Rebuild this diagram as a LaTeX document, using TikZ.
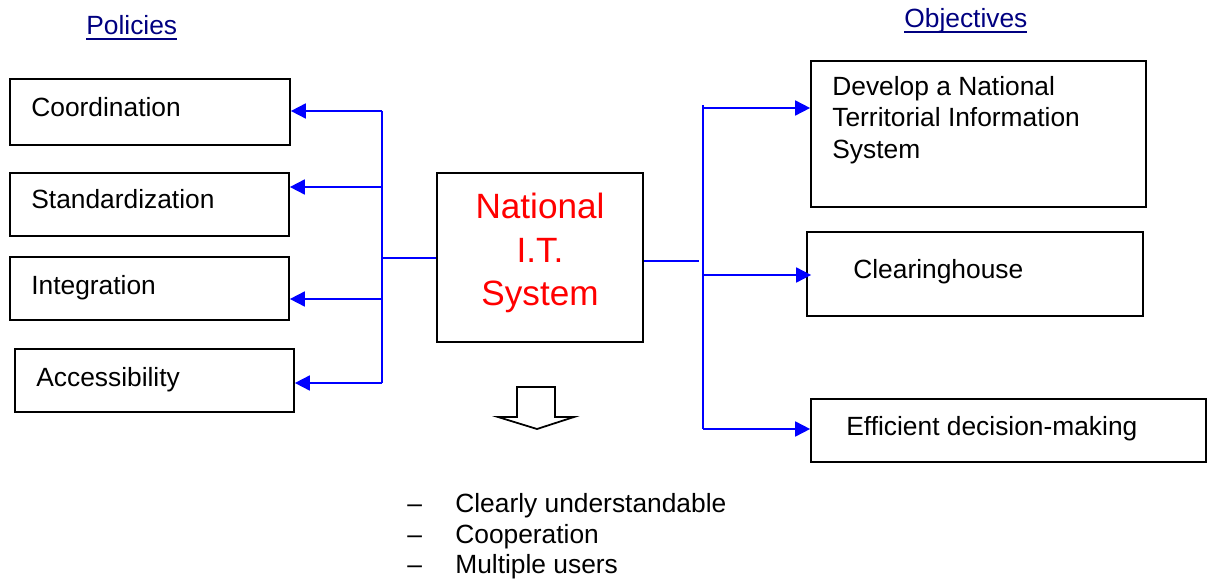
\documentclass[tikz,border=0pt]{standalone}
\usepackage{fontspec}
\setmainfont{Liberation Sans}
\usepackage{tikz}
\usetikzlibrary{arrows.meta}
\definecolor{linkblue}{RGB}{0,0,255}
\definecolor{hdrblue}{RGB}{0,0,128}
\newcommand{\hdrline}[1]{\setbox0\hbox{#1}\rlap{\rule[-2.6pt]{\wd0}{0.8pt}}\box0}

\begin{document}
\begin{tikzpicture}[x=0.02cm, y=-0.02cm, >={Triangle[length=8.5pt,width=8.5pt]},
	box/.style={draw, line width=1pt, inner sep=0pt},
	lbl/.style={inner sep=0pt, anchor=base west, align=left, font=\fontsize{15}{17.9}\selectfont},
	ttl/.style={inner sep=0pt, anchor=base, text=red, font=\fontsize{20}{24.7}\selectfont},
	hdr/.style={inner sep=0pt, anchor=base west, text=hdrblue, font=\fontsize{15}{18}\selectfont},
	link/.style={draw=linkblue, line width=1pt}]
	\useasboundingbox (0,0) rectangle (1211,581);
	%Headers
	\node [hdr] (pol) at (86,35) {\hdrline{Policies}};
	\node [hdr] (obj) at (904,28) {\hdrline{Objectives}};
	%Policies
	\node [box, minimum width=5.6cm, minimum height=1.32cm] (coord) at (150,112) {};
	\node [box, minimum width=5.58cm, minimum height=1.26cm] (stand) at (149.5,204.5) {};
	\node [box, minimum width=5.58cm, minimum height=1.26cm] (integ) at (149.5,288.5) {};
	\node [box, minimum width=5.58cm, minimum height=1.26cm] (access) at (154.5,380.5) {};
	\node [lbl] (coordtxt) at (31,117) {Coordination};
	\node [lbl] (standtxt) at (31,209) {Standardization};
	\node [lbl] (integtxt) at (31,294) {Integration};
	\node [lbl] (accesstxt) at (36,386) {Accessibility};
	%System
	\node [box, minimum width=4.12cm, minimum height=3.38cm] (nits) at (540,257.5) {};
	\node [ttl] (nits1) at (540,218) {National};
	\node [ttl] (nits2) at (540,262) {I.T.};
	\node [ttl] (nits3) at (540,305) {System};
	%Objectives
	\node [box, minimum width=6.7cm, minimum height=2.92cm] (develop) at (978.5,134) {};
	\node [box, minimum width=6.72cm, minimum height=1.68cm] (clear) at (975,274) {};
	\node [box, minimum width=7.9cm, minimum height=1.26cm] (effic) at (1008.5,430.5) {};
	\node [lbl] (developtxt) at (832,158) {Develop a National\\Territorial Information\\System};
	\node [lbl] (cleartxt) at (853,278) {Clearinghouse};
	\node [lbl] (effictxt) at (846,435) {Efficient decision-making};
	%Left links
	\coordinate (l1) at (382,111);
	\coordinate (l2) at (382,187);
	\coordinate (l3) at (382,299);
	\coordinate (l4) at (382,383);
	\coordinate (ljoin) at (382,258);
	\draw [link] (l1) -- (l4);
	\draw [link] (nits.west |- ljoin) -- (ljoin);
	\draw [link,->] (l1) -- (coord.east |- l1);
	\draw [link,->] (l2) -- (stand.east |- l2);
	\draw [link,->] (l3) -- (integ.east |- l3);
	\draw [link,->] (l4) -- (access.east |- l4);
	%Right links
	\coordinate (rtop) at (703,105);
	\coordinate (r1) at (703,108);
	\coordinate (r2) at (703,275);
	\coordinate (r3) at (703,429);
	\coordinate (rjoin) at (699,261);
	\draw [link] (rtop) -- (r3);
	\draw [link] (nits.east |- rjoin) -- (rjoin);
	\draw [link,->] (r1) -- (develop.west |- r1);
	\draw [link,->,shorten >=-0.1cm] (r2) -- (clear.west |- r2);
	\draw [link,->] (r3) -- (effic.west |- r3);
	%Down arrow
	\draw [line width=1pt, line join=miter] (517,387) -- (555,387) -- (555,417) -- (574,417)
		-- (537,429) -- (498,417) -- (517,417) -- cycle;
	%Features
	\node [lbl] (feat1) at (407,512) {\makebox[0.96cm][l]{--}Clearly understandable};
	\node [lbl] (feat2) at (407,543) {\makebox[0.96cm][l]{--}Cooperation};
	\node [lbl] (feat3) at (407,573) {\makebox[0.96cm][l]{--}Multiple users};
\end{tikzpicture}
\end{document}
